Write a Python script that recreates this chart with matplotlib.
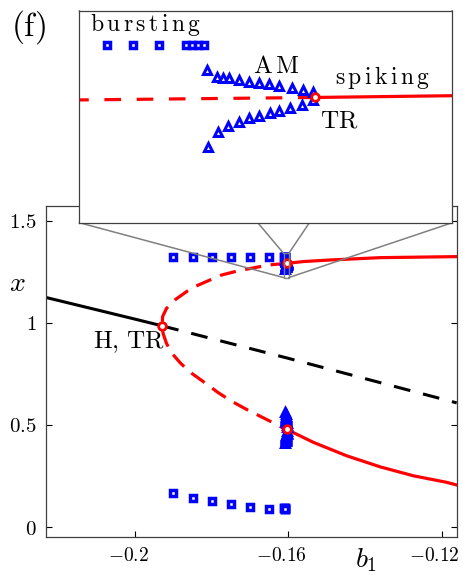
import numpy as np
import matplotlib
matplotlib.use("Agg")
import matplotlib.pyplot as plt
from matplotlib.patches import ConnectionPatch, Rectangle
from matplotlib.transforms import ScaledTranslation

plt.rcParams['mathtext.fontset'] = 'cm'
plt.rcParams['font.family'] = ['DejaVu Serif']

# equilibrium branch (black): stable up to H, unstable after
eq_x = [-0.2232, -0.2000, -0.1929, -0.1600, -0.1161]
eq_y = [1.124, 1.018, 0.985, 0.826, 0.608]

# periodic orbit branch (red), unstable part from upper TR through H to lower TR
unst_x = [-0.1604, -0.1652, -0.1696, -0.1730, -0.1774, -0.1804, -0.1843, -0.1863,
          -0.1896, -0.1918, -0.1928, -0.1929, -0.1927, -0.1918, -0.1904, -0.1880,
          -0.1850, -0.1813, -0.1783, -0.1748, -0.1709, -0.1674, -0.1639, -0.1617,
          -0.1604]
unst_y = [1.291, 1.283, 1.267, 1.255, 1.234, 1.210, 1.178, 1.156,
          1.112, 1.070, 1.030, 0.985, 0.950, 0.900, 0.851, 0.800,
          0.750, 0.700, 0.658, 0.616, 0.576, 0.543, 0.510, 0.488,
          0.478]
# stable spiking, max and min
stab_up_x = [-0.1604, -0.1560, -0.1491, -0.1360, -0.1161]
stab_up_y = [1.291, 1.300, 1.3075, 1.319, 1.324]
stab_lo_x = [-0.1604, -0.1535, -0.1448, -0.1361, -0.1274, -0.1187, -0.1161]
stab_lo_y = [0.478, 0.415, 0.349, 0.295, 0.251, 0.219, 0.206]

# H and TR points
sp_x = [-0.1929, -0.1604, -0.1604]
sp_y = [0.985, 1.291, 0.478]

# bursting (squares)
burst_x = [-0.190, -0.185, -0.180, -0.175, -0.170, -0.165,
           -0.161125, -0.161032, -0.160941, -0.160848, -0.160827, -0.160806, -0.160785]
burst_max = [1.32, 1.32, 1.32, 1.32, 1.32, 1.32,
             1.3202, 1.3202, 1.3202, 1.3202, 1.3202, 1.3202, 1.3202]
burst_min = [0.168, 0.143, 0.127, 0.111, 0.098, 0.090,
             0.094, 0.093, 0.092, 0.091, 0.090, 0.089, 0.088]

# amplitude modulated (triangles)
am_xa = [-0.160774, -0.160739, -0.160718, -0.160697, -0.160662, -0.160628,
         -0.160593, -0.160558, -0.160523, -0.160480, -0.160441, -0.160404]
am_hi_a = [1.3063, 1.3026, 1.3020, 1.3017, 1.3007, 1.2998,
           1.2992, 1.2983, 1.2976, 1.2965, 1.2953, 1.2939]
am_lo_a = [0.565, 0.552, 0.546, 0.541, 0.535, 0.530,
           0.525, 0.520, 0.514, 0.508, 0.500, 0.490]
am_xb = [-0.160770, -0.160736, -0.160701, -0.160662, -0.160628, -0.160593,
         -0.160555, -0.160523, -0.160486, -0.160445, -0.160404]
am_hi_b = [1.2636, 1.2720, 1.2751, 1.2775, 1.2794, 1.2809,
           1.2822, 1.2835, 1.2850, 1.2868, 1.2896]
am_lo_b = [0.410, 0.420, 0.426, 0.431, 0.436, 0.441,
           0.446, 0.451, 0.456, 0.462, 0.470]

xticks = [-0.2, -0.16, -0.12]
xticklabels = ['$-0.2$', '$-0.16$', '$-0.12$']
yticks = [0, 0.5, 1, 1.5]
yticklabels = ['$0$', '$0.5$', '$1$', '$1.5$']

ins_xlim = (-0.16122, -0.15992)
ins_ylim = (1.2213, 1.3393)

fig = plt.figure(figsize=(4.63, 5.75), dpi=100)
ax = fig.add_axes([0.0994, 0.0656, 0.887, 0.5762])
axins = fig.add_axes([0.1713, 0.6127, 0.8056, 0.3687])
axins.set_zorder(3)

sq = dict(ls='none', marker='s', ms=4.7, mew=2.5, mfc='white', mec='blue', color='blue')
tri = dict(ls='none', marker='^', ms=5.5, mew=2.2, mfc='white', mec='blue', color='blue')
pt = dict(ls='none', marker='o', ms=5.5, mew=2.0, mfc='white', mec='red')


def draw(a, red_dash, inset=False):
    if not inset:
        a.plot(eq_x[:3], eq_y[:3], color='black', lw=2.2)
        a.plot(eq_x[2:], eq_y[2:], color='black', lw=2.2, dashes=(5.5, 4.3))
    a.plot(unst_x, unst_y, color='red', lw=2.3, dashes=red_dash)
    a.plot(stab_up_x, stab_up_y, color='red', lw=2.3)
    a.plot(stab_lo_x, stab_lo_y, color='red', lw=2.3)
    a.plot(burst_x, burst_max, **sq)
    a.plot(burst_x, burst_min, **sq)
    a.plot(am_xa, am_hi_a, **tri)
    a.plot(am_xb, am_hi_b, **tri)
    a.plot(am_xa, am_lo_a, **tri)
    a.plot(am_xb, am_lo_b, **tri)
    a.plot(sp_x, sp_y, **pt)


draw(ax, (5.1, 3.0))
ax.set_xlim(-0.2232, -0.1161)
ax.set_ylim(-0.05, 1.572)
ax.set_xticks(xticks, xticklabels)
ax.set_yticks(yticks, yticklabels)
ax.tick_params(direction='in', top=True, right=True, length=4, width=0.8,
               labelsize=15, pad=7)
ax.tick_params(axis='x', labelsize=14)
shift = ScaledTranslation(-0.07, 0, fig.dpi_scale_trans)
for lab in ax.get_xticklabels():
    lab.set_transform(lab.get_transform() + shift)
for s in ax.spines.values():
    s.set_color('0.25')
    s.set_linewidth(0.9)
ax.set_xlabel('$b_1$', fontsize=20)
ax.xaxis.set_label_coords(0.779, -0.028)
ax.set_ylabel('$x$', fontsize=20, rotation=0, ha='center', va='center')
ax.yaxis.set_label_coords(-0.069, 0.765)
ax.text(-0.1922, 0.877, r'$\mathrm{H,\,TR}$', fontsize=18, ha='right', va='baseline')

draw(axins, (5.2, 4.9), inset=True)
axins.set_xlim(*ins_xlim)
axins.set_ylim(*ins_ylim)
axins.set_xticks([])
axins.set_yticks([])
for s in axins.spines.values():
    s.set_color('0.25')
    s.set_linewidth(0.9)
axins.text(0.029, 0.904, r'$\mathrm{b\,u\,r\,s\,t\,i\,n\,g}$', transform=axins.transAxes,
           fontsize=17, ha='left', va='baseline')
axins.text(0.466, 0.706, r'$\mathrm{A\,M}$', transform=axins.transAxes,
           fontsize=18, ha='left', va='baseline')
axins.text(0.686, 0.654, r'$\mathrm{s\,p\,i\,k\,i\,n\,g}$', transform=axins.transAxes,
           fontsize=17, ha='left', va='baseline')
axins.text(0.645, 0.447, r'$\mathrm{TR}$', transform=axins.transAxes,
           fontsize=18, ha='left', va='baseline')

# zoom box and connectors
x0, x1 = ins_xlim
y0, y1 = ins_ylim
ax.add_patch(Rectangle((x0, y0), x1 - x0, y1 - y0, fill=False, ec='0.5', lw=1.0, zorder=6))
for ca, cb in [((0, 0), (x0, y0)), ((1, 0), (x1, y0)), ((0, 1), (x0, y1)), ((1, 1), (x1, y1))]:
    con = ConnectionPatch(xyA=ca, coordsA=axins.transAxes, xyB=cb, coordsB=ax.transData,
                          color='0.5', lw=1.1, zorder=2)
    fig.add_artist(con)

fig.text(0.024, 0.986, r'$\mathrm{(f)}$', fontsize=24, ha='left', va='top')

fig.savefig('out.png', dpi=100)
